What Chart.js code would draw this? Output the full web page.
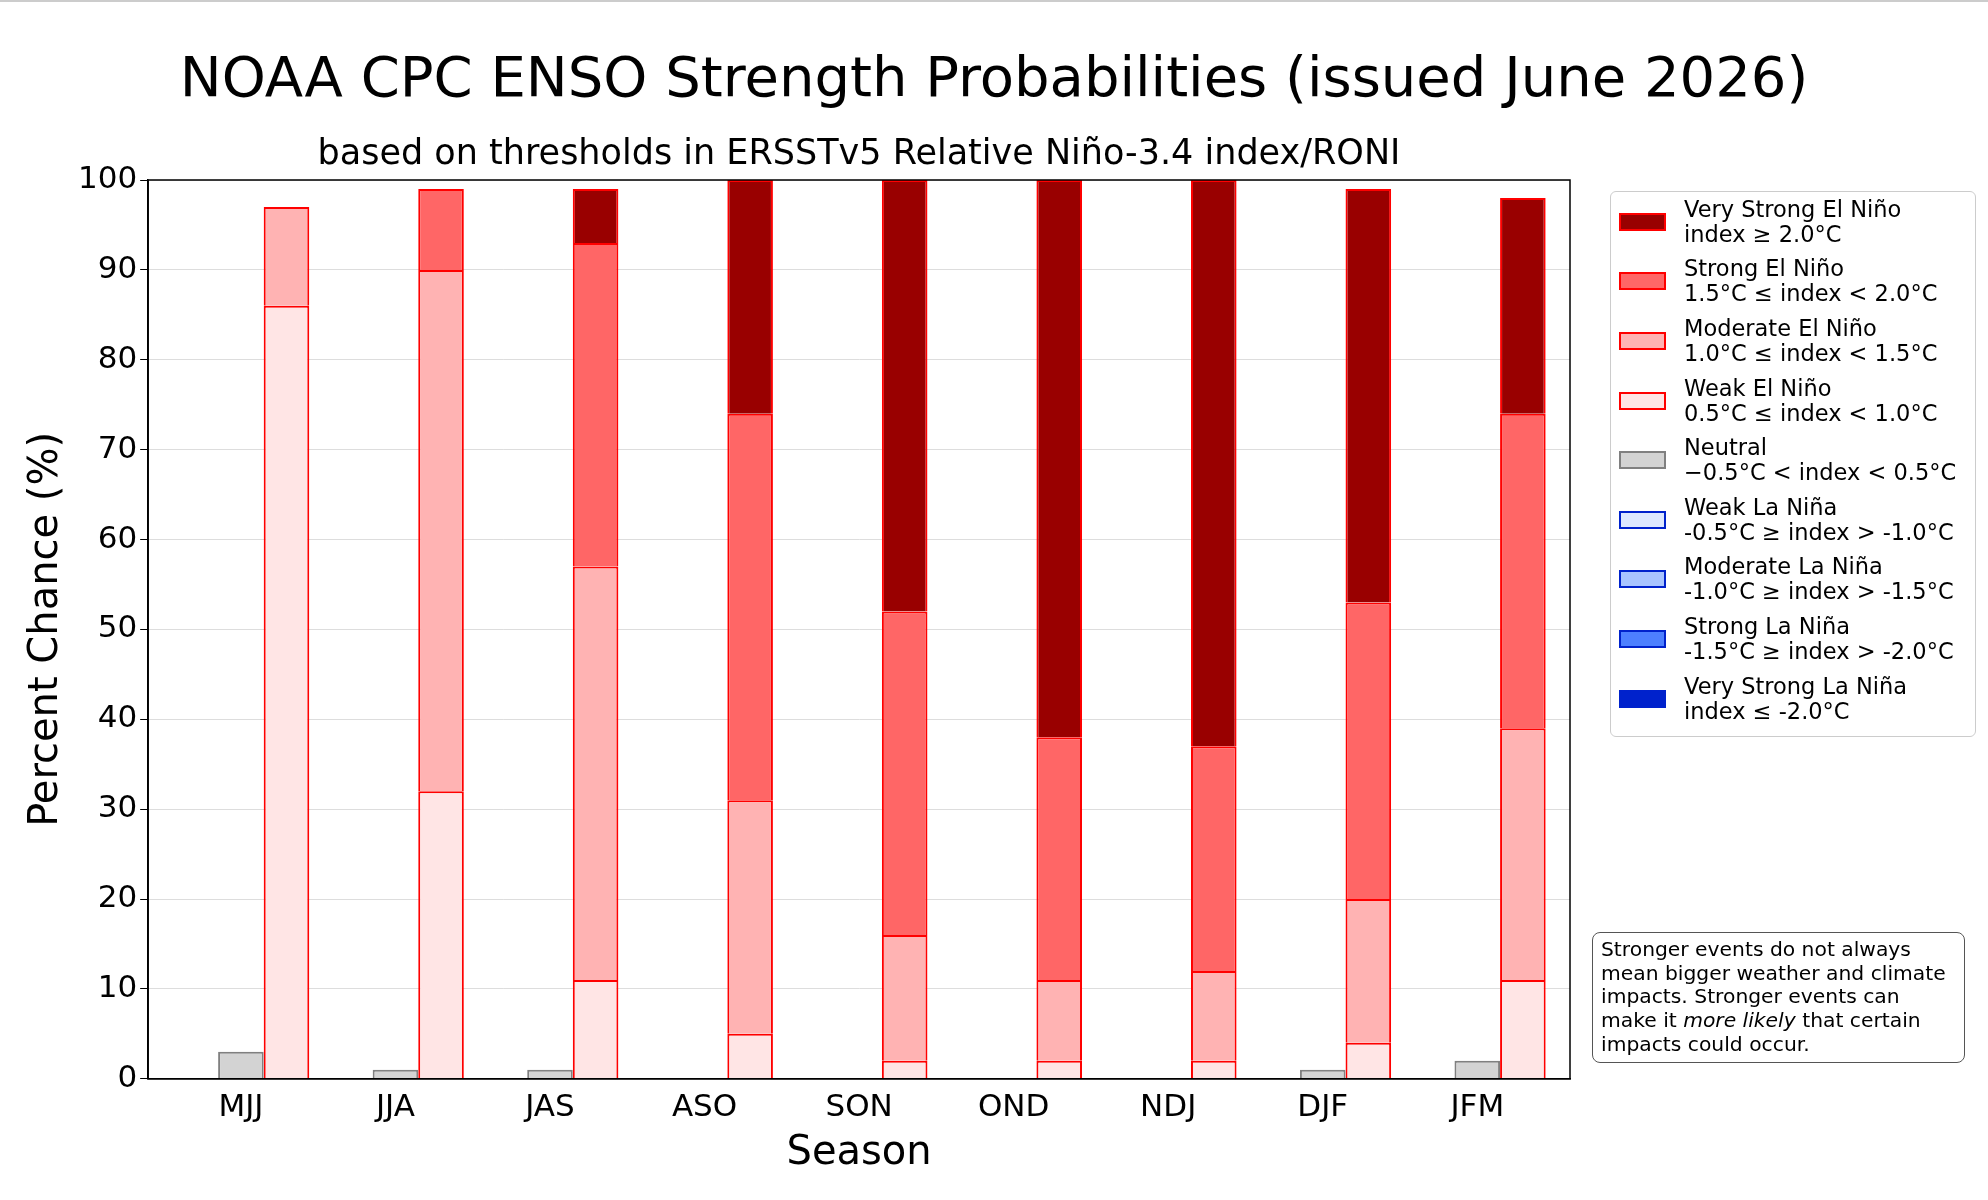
<!DOCTYPE html>
<html><head><meta charset="utf-8">
<script src="https://cdn.jsdelivr.net/npm/chart.js@4"></script>
<style>
body{margin:0;background:#fff;font-family:"DejaVu Sans",sans-serif;}
#wrap{position:relative;width:1988px;height:1200px;border-top:2px solid #ccc;box-sizing:border-box}
#title{position:absolute;left:0;width:1988px;top:42px;text-align:center;font-size:56px;line-height:66px}
#sub{position:absolute;left:148px;width:1422px;top:129px;text-align:center;font-size:35px;line-height:42px}
#legend{position:absolute;left:1610px;top:189px;width:366px;height:546px;border:1.5px solid #ccc;border-radius:6px;box-sizing:border-box;padding:0 0 0 8px;font-size:22.5px;line-height:25px}
.item{display:flex;align-items:center;height:59.6px}
.sw{width:47px;height:18px;border:2px solid;box-sizing:border-box;margin-right:18px;flex:none}
#note{position:absolute;left:1592px;top:930px;width:373px;height:131px;border:1.5px solid #555;border-radius:8px;box-sizing:border-box;padding:5px 8px;font-size:20.3px;line-height:23.7px}
</style></head><body>
<div id="wrap">
<canvas id="c" width="1988" height="1198"></canvas>
<div id="title">NOAA CPC ENSO Strength Probabilities (issued June 2026)</div>
<div id="sub">based on thresholds in ERSSTv5 Relative Niño-3.4 index/RONI</div>
<div id="legend"></div>
<div id="note">Stronger events do not always mean bigger weather and climate impacts. Stronger events can make it <i>more likely</i> that certain impacts could occur.</div>
</div>
<script>
const seasons=["MJJ","JJA","JAS","ASO","SON","OND","NDJ","DJF","JFM"];
const laNinaVeryStrong=[0,0,0,0,0,0,0,0,0];
const laNinaStrong=[0,0,0,0,0,0,0,0,0];
const laNinaModerate=[0,0,0,0,0,0,0,0,0];
const laNinaWeak=[0,0,0,0,0,0,0,0,0];
const neutral=[3,1,1,0,0,0,0,1,2];
const elNinoWeak=[86,32,11,5,2,2,2,4,11];
const elNinoModerate=[11,58,46,26,14,9,10,16,28];
const elNinoStrong=[0,9,36,43,36,27,25,33,35];
const elNinoVeryStrong=[0,0,6,26,48,62,63,46,24];
const yTicks=[0,10,20,30,40,50,60,70,80,90,100];

const legendItems=[
 ["Very Strong El Niño","index ≥ 2.0°C","#990000","#ff0000"],
 ["Strong El Niño","1.5°C ≤ index < 2.0°C","#ff6666","#ff0000"],
 ["Moderate El Niño","1.0°C ≤ index < 1.5°C","#ffb3b3","#ff0000"],
 ["Weak El Niño","0.5°C ≤ index < 1.0°C","#ffe5e5","#ff0000"],
 ["Neutral","−0.5°C < index < 0.5°C","#d3d3d3","#808080"],
 ["Weak La Niña","-0.5°C ≥ index > -1.0°C","#dde8ff","#0022cc"],
 ["Moderate La Niña","-1.0°C ≥ index > -1.5°C","#a8c4ff","#0022cc"],
 ["Strong La Niña","-1.5°C ≥ index > -2.0°C","#4d80ff","#0022cc"],
 ["Very Strong La Niña","index ≤ -2.0°C","#0022cc","#0022cc"]];
const lg=document.getElementById('legend');
legendItems.forEach(it=>{lg.innerHTML+=`<div class="item"><div class="sw" style="background:${it[2]};border-color:${it[3]}"></div><div>${it[0]}<br>${it[1]}</div></div>`;});

function ds(label,arr,stack,bg,bc){return {label,data:arr.map((v,i)=>({x:i,y:v})),stack,backgroundColor:bg,borderColor:bc,borderWidth:2,borderSkipped:'bottom'};}
new Chart(document.getElementById('c'),{
 type:'bar',
 data:{datasets:[
  ds("Weak La Niña",laNinaWeak,"ln","#dde8ff","#0022cc"),
  ds("Moderate La Niña",laNinaModerate,"ln","#a8c4ff","#0022cc"),
  ds("Strong La Niña",laNinaStrong,"ln","#4d80ff","#0022cc"),
  ds("Very Strong La Niña",laNinaVeryStrong,"ln","#0022cc","#0022cc"),
  ds("Neutral",neutral,"neu","#d3d3d3","#808080"),
  ds("Weak El Niño",elNinoWeak,"en","#ffe5e5","#ff0000"),
  ds("Moderate El Niño",elNinoModerate,"en","#ffb3b3","#ff0000"),
  ds("Strong El Niño",elNinoStrong,"en","#ff6666","#ff0000"),
  ds("Very Strong El Niño",elNinoVeryStrong,"en","#990000","#ff0000")]},
 options:{responsive:false,animation:false,devicePixelRatio:1,
  categoryPercentage:0.885,barPercentage:1,
  layout:{padding:{left:19,right:418,top:178,bottom:18}},
  plugins:{legend:{display:false},tooltip:{enabled:false}},
  scales:{
   x:{type:'linear',stacked:true,min:-0.6,max:8.6,offset:false,
      afterBuildTicks:a=>{a.ticks=seasons.map((s,i)=>({value:i}));},
      grid:{display:false,drawTicks:true,tickLength:8,tickColor:"#000"},border:{color:"#000",width:1.5},
      ticks:{color:"#000",font:{family:"DejaVu Sans",size:31},callback:v=>seasons[v]},
      title:{display:true,text:"Season",color:"#000",font:{family:"DejaVu Sans",size:40},padding:{top:0}}},
   y:{stacked:true,min:0,max:100,afterBuildTicks:a=>{a.ticks=yTicks.map(v=>({value:v}));},
      grid:{color:"#dddddd",tickColor:"#000",tickLength:8},border:{color:"#000",width:1.5},
      ticks:{color:"#000",font:{family:"DejaVu Sans",size:31}},
      title:{display:true,text:"Percent Chance (%)",color:"#000",font:{family:"DejaVu Sans",size:40}}}}},
 plugins:[{id:'frame',afterDraw(c){const a=c.chartArea,x=c.ctx;x.save();x.strokeStyle="#000";x.lineWidth=1.5;x.strokeRect(a.left,a.top,a.right-a.left,a.bottom-a.top);x.restore();}}]
});
</script></body></html>
